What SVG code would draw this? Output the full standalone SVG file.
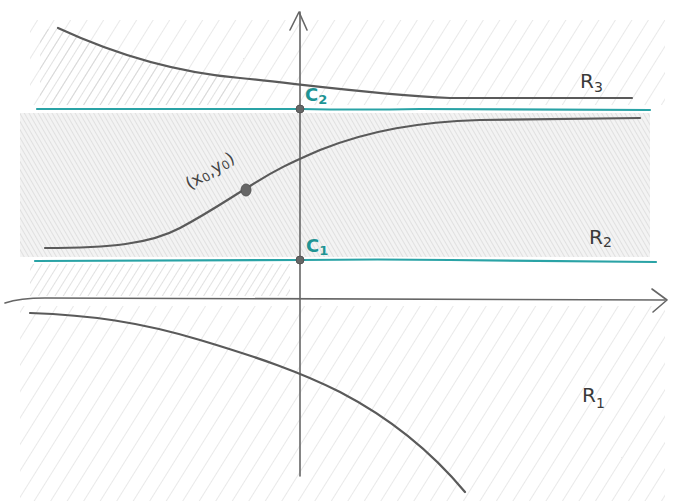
<svg xmlns="http://www.w3.org/2000/svg" width="673" height="504" viewBox="0 0 673 504">
<defs>
<style>
.curve{fill:none;stroke:#5a5a5a;stroke-width:2.2;stroke-linecap:round;stroke-linejoin:round}
.axis{fill:none;stroke:#666;stroke-width:1.6;stroke-linecap:round;stroke-linejoin:round}
.cyan{fill:none;stroke:#2aa3a6;stroke-width:2.2;stroke-linecap:round}
.dot{fill:#666;stroke:#555;stroke-width:1}
.lblC{font-family:"DejaVu Sans",sans-serif;font-size:18px;fill:#1f9494;font-weight:bold}
.lblR{font-family:"DejaVu Sans",sans-serif;font-size:20px;fill:#3a3a3a}
.lblP{font-family:"DejaVu Sans",sans-serif;font-size:17px;fill:#444}
</style>
<pattern id="hatchA" width="14" height="14" patternUnits="userSpaceOnUse" patternTransform="rotate(32)">
<line x1="0" y1="0" x2="0" y2="14" stroke="#dadada" stroke-width="1.2"/>
</pattern>
<pattern id="hatchAd" width="7" height="7" patternUnits="userSpaceOnUse" patternTransform="rotate(32)">
<line x1="0" y1="0" x2="0" y2="7" stroke="#c8c8c8" stroke-width="1.1"/>
</pattern>
<pattern id="hatchB" width="4" height="4" patternUnits="userSpaceOnUse" patternTransform="rotate(-30)">
<line x1="0" y1="0" x2="0" y2="4" stroke="#d6d6d6" stroke-width="1.3"/>
</pattern>
</defs>
<rect width="673" height="504" fill="#ffffff"/>

<g id="shading">
<rect x="30" y="20" width="635" height="85" fill="url(#hatchA)"/>
<path d="M40,30 L58,28 C110,52 170,72 240,78 L240,105 L40,105 Z" fill="url(#hatchAd)"/>
<rect x="20" y="113" width="630" height="144" fill="#f3f3f3"/>
<rect x="20" y="113" width="630" height="144" fill="url(#hatchB)"/>
<rect x="30" y="264" width="260" height="32" fill="url(#hatchAd)"/>
<rect x="20" y="306" width="645" height="195" fill="url(#hatchA)"/>
</g>

<g id="axes">
<path class="axis" d="M5,303 Q20,298 45,298 L665,300"/>
<path class="axis" d="M652,289 L667,300 L653,312"/>
<path class="axis" d="M300,476 L300,12"/>
<path class="axis" d="M290,30 L299,12 L307,30"/>
</g>

<g id="lines">
<path class="cyan" d="M37,109 L300,109 Q360,110 420,109 L650,110"/>
<path class="cyan" d="M35,261 L300,260 Q380,259 450,260 L656,262"/>
</g>

<g id="curves">
<path id="R3curve" class="curve" d="M58,28 C110,52 170,72 240,78 C300,84 380,95 450,98 L632,98"/>
<path id="R2curve" class="curve" d="M45,248 C110,248 150,244 180,228 C210,212 230,198 250,186 C275,170 290,163 320,150 C370,130 420,122 480,120 L640,118"/>
<path id="R1curve" class="curve" d="M30,313 C90,315 140,322 200,340 C260,358 300,372 340,392 C390,418 430,450 465,492"/>
</g>

<g id="points">
<ellipse class="dot" cx="300" cy="109" rx="4" ry="4"/>
<ellipse class="dot" cx="300" cy="260" rx="4" ry="4"/>
<ellipse class="dot" cx="246" cy="190" rx="5" ry="6"/>
</g>

<g id="labels">
<text class="lblC" x="305" y="101">C<tspan font-size="13" dy="3">2</tspan></text>
<text class="lblC" x="306" y="252">C<tspan font-size="13" dy="3">1</tspan></text>
<text class="lblR" x="580" y="88">R<tspan font-size="14" dy="4">3</tspan></text>
<text class="lblR" x="589" y="244">R<tspan font-size="14" dy="3">2</tspan></text>
<text class="lblR" x="582" y="402">R<tspan font-size="14" dy="6">1</tspan></text>
<text class="lblP" transform="translate(190,190) rotate(-32)">(x<tspan font-size="12" dy="2">0</tspan><tspan dy="-2">,y</tspan><tspan font-size="12" dy="2">0</tspan><tspan dy="-2">)</tspan></text>
</g>
</svg>
